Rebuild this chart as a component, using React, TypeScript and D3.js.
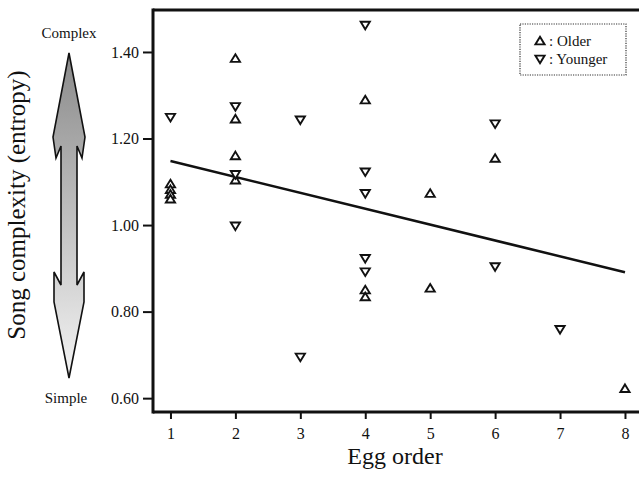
import React, { useEffect, useRef } from "react";
import * as d3 from "d3";

// egg order / song entropy
const olderX = [1, 1, 1, 1, 2, 2, 2, 2, 4, 4, 4, 5, 5, 6, 8];
const olderY = [1.095, 1.082, 1.071, 1.06, 1.385, 1.245, 1.16, 1.104, 1.289, 0.85, 0.834, 1.073, 0.854, 1.154, 0.622];
const youngerX = [1, 2, 2, 2, 3, 3, 4, 4, 4, 4, 4, 6, 6, 7];
const youngerY = [1.249, 1.274, 1.117, 0.998, 1.243, 0.695, 1.462, 1.123, 1.073, 0.923, 0.892, 1.234, 0.904, 0.759];
const fitX = [1, 8];
const fitY = [1.148, 0.891];
const xTicks = [1, 2, 3, 4, 5, 6, 7, 8];
const yTicks = [0.6, 0.8, 1.0, 1.2, 1.4];

const W = 639;
const H = 480;
const left = 153, top = 10, bottom = 412;
const serif = "'Liberation Serif', 'Times New Roman', serif";

const upTri = "M0,-4.2L4.6,3.4L-4.6,3.4Z";
const downTri = "M0,4.2L4.6,-3.4L-4.6,-3.4Z";

const App = () => {
    const xAxisRef = useRef(null);
    const yAxisRef = useRef(null);

    const x = d3.scaleLinear().domain([0.731, 8.216]).range([left, W]);
    const y = d3.scaleLinear().domain([0.568, 1.497]).range([bottom, top]);

    useEffect(() => {
        const yAxis = d3.axisLeft(y)
            .tickValues(yTicks)
            .tickFormat(d3.format(".2f"))
            .tickSize(9)
            .tickPadding(4);
        const yg = d3.select(yAxisRef.current).call(yAxis);
        yg.select('.domain').remove();
        yg.selectAll('line').attr('stroke', '#111').attr('stroke-width', 2);
        yg.selectAll('text')
            .attr('font-family', serif)
            .attr('font-size', 16)
            .attr('fill', '#111');

        const xAxis = d3.axisBottom(x)
            .tickValues(xTicks)
            .tickFormat(d3.format("d"))
            .tickSize(6)
            .tickPadding(9);
        const xg = d3.select(xAxisRef.current).call(xAxis);
        xg.select('.domain').remove();
        xg.selectAll('line').attr('stroke', '#111').attr('stroke-width', 2);
        xg.selectAll('text')
            .attr('font-family', serif)
            .attr('font-size', 16)
            .attr('fill', '#111');
    }, []);

    const line = d3.line<number>()
        .x((d, i) => x(fitX[i]))
        .y(d => y(d));

    // double-headed arrow beside the y label
    const arrow = [
        [69, 53], [53, 137], [56, 158], [61, 146], [61, 285], [54, 272], [54, 302], [69, 378],
        [84, 302], [84, 272], [77, 285], [77, 146], [82, 158], [85, 137]
    ];

    return (
        <svg width={W} height={H} style={{ position: 'absolute', left: 0, top: 0, background: '#fff' }}>
            <defs>
                <linearGradient id="arrowFill" x1="0" y1="0" x2="0" y2="1">
                    <stop offset="0%" stopColor="#8a8a8a" />
                    <stop offset="100%" stopColor="#f4f4f4" />
                </linearGradient>
            </defs>
            <rect width={W} height={H} fill="#fff" />

            <path d={"M" + arrow.map(p => p.join(",")).join("L") + "Z"}
                fill="url(#arrowFill)" stroke="#111" strokeWidth={1.6} strokeLinejoin="miter" />
            <text x={69} y={38} textAnchor="middle" fontFamily={serif} fontSize={15} fill="#111">Complex</text>
            <text x={66} y={403} textAnchor="middle" fontFamily={serif} fontSize={15} fill="#111">Simple</text>
            <text transform="translate(25,205) rotate(-90)" textAnchor="middle"
                fontFamily={serif} fontSize={25} fill="#111">Song complexity (entropy)</text>

            <g ref={yAxisRef} transform={`translate(${left - 1},0)`} />
            <g ref={xAxisRef} transform={`translate(0,${bottom + 1})`} />

            <line x1={left} x2={left} y1={top - 1.5} y2={bottom + 1.5} stroke="#111" strokeWidth={3} />
            <line x1={left} x2={W} y1={top} y2={top} stroke="#111" strokeWidth={3} />
            <line x1={left} x2={W} y1={bottom} y2={bottom} stroke="#111" strokeWidth={3} />

            <path d={line(fitY) || ""} fill="none" stroke="#111" strokeWidth={2.5} />

            {olderY.map((v, i) => (
                <path key={"o" + i} d={upTri} transform={`translate(${x(olderX[i])},${y(v)})`}
                    fill="#fff" stroke="#111" strokeWidth={1.9} />
            ))}
            {youngerY.map((v, i) => (
                <path key={"y" + i} d={downTri} transform={`translate(${x(youngerX[i])},${y(v)})`}
                    fill="#fff" stroke="#111" strokeWidth={1.9} />
            ))}

            <g>
                <rect x={520} y={24} width={106} height={51} fill="#fff" stroke="#333"
                    strokeWidth={1.2} strokeDasharray="1.2,1.2" />
                <path d={upTri} transform="translate(540,41)" fill="#fff" stroke="#111" strokeWidth={1.9} />
                <text x={549} y={46} fontFamily={serif} fontSize={15} fill="#111">: Older</text>
                <path d={downTri} transform="translate(540,59)" fill="#fff" stroke="#111" strokeWidth={1.9} />
                <text x={549} y={64} fontFamily={serif} fontSize={15} fill="#111">: Younger</text>
            </g>

            <text x={395} y={464} textAnchor="middle" fontFamily={serif} fontSize={24} fill="#111">Egg order</text>
        </svg>
    );
};

export default App;
